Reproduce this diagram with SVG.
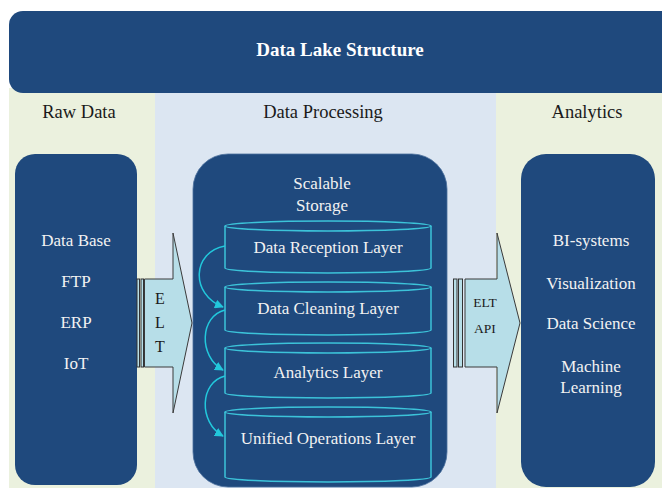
<svg xmlns="http://www.w3.org/2000/svg" width="662" height="488" viewBox="0 0 662 488">
<style>
.t{font-family:"Liberation Serif","Times New Roman",serif;fill:#F2F2F2;font-size:17px;text-anchor:middle}
.h{font-family:"Liberation Serif","Times New Roman",serif;fill:#1A1A1A;font-size:18.5px;text-anchor:middle}
.a{font-family:"Liberation Serif","Times New Roman",serif;fill:#1A1A1A;text-anchor:middle}
.box{fill:#1F497D}
.cyl{fill:#1F497D;stroke:#3CC3D9;stroke-width:1.5}
.arr{fill:#B7DEE8;stroke:#3A3A3A;stroke-width:1}
.bar{fill:#B7DEE8;stroke:#333;stroke-width:1}
.con{fill:none;stroke:#22C8DC;stroke-width:1.5}
</style>
<defs>
<marker id="ah" viewBox="0 0 10 10" refX="9" refY="5" markerWidth="9" markerHeight="9" markerUnits="userSpaceOnUse" orient="auto">
<path d="M0,0 L10,5 L0,10 Z" fill="#22C8DC"/>
</marker>
</defs>
<rect width="662" height="488" fill="#FFFFFF"/>
<g id="columns">
<rect x="9" y="88" width="146" height="400" fill="#EBF1DE"/>
<rect x="155" y="88" width="341" height="400" fill="#DCE6F2"/>
<rect x="496" y="88" width="166" height="400" fill="#EBF1DE"/>
</g>
<g id="banner">
<rect x="9" y="11" width="675" height="82" rx="14" class="box"/>
<text x="340" y="56" class="t" style="font-size:19px;font-weight:bold;fill:#FFFFFF">Data Lake Structure</text>
</g>
<g id="headers">
<text x="79" y="118" class="h">Raw Data</text>
<text x="323" y="118" class="h">Data Processing</text>
<text x="587" y="118" class="h">Analytics</text>
</g>
<g id="raw-data">
<rect x="15" y="154" width="122" height="331" rx="20" class="box"/>
<text x="76" y="246" class="t">Data Base</text>
<text x="76" y="287" class="t">FTP</text>
<text x="76" y="328" class="t">ERP</text>
<text x="76" y="369" class="t">IoT</text>
</g>
<g id="scalable-storage">
<rect x="193" y="154" width="254" height="333" rx="35" class="box" stroke="#4A6E9C" stroke-width="0.8"/>
<text x="322" y="189" class="t">Scalable</text>
<text x="322" y="211" class="t">Storage</text>
</g>
<g id="data-reception-layer">
<path d="M225,226 L225,268 A103,5 0 0 0 431,268 L431,226" class="cyl"/>
<ellipse cx="328" cy="226" rx="103" ry="5" class="cyl"/>
<text x="328" y="253" class="t">Data Reception Layer</text>
</g>
<g id="data-cleaning-layer">
<path d="M225,287 L225,330 A103,5 0 0 0 431,330 L431,287" class="cyl"/>
<ellipse cx="328" cy="287" rx="103" ry="5" class="cyl"/>
<text x="328" y="314" class="t">Data Cleaning Layer</text>
</g>
<g id="analytics-layer">
<path d="M225,348 L225,393 A103,5 0 0 0 431,393 L431,348" class="cyl"/>
<ellipse cx="328" cy="348" rx="103" ry="5" class="cyl"/>
<text x="328" y="378" class="t">Analytics Layer</text>
</g>
<g id="unified-operations-layer">
<path d="M225,412 L225,477 A103,5 0 0 0 431,477 L431,412" class="cyl"/>
<ellipse cx="328" cy="412" rx="103" ry="5" class="cyl"/>
<text x="328" y="444" class="t">Unified Operations Layer</text>
</g>
<g id="analytics">
<rect x="521" y="154" width="134" height="333" rx="25" class="box"/>
<text x="591" y="246" class="t">BI-systems</text>
<text x="591" y="289" class="t">Visualization</text>
<text x="591" y="329" class="t">Data Science</text>
<text x="591" y="372" class="t">Machine</text>
<text x="591" y="393" class="t">Learning</text>
</g>
<g id="elt-left">
<rect x="137" y="279" width="2.5" height="88" class="bar"/>
<rect x="141" y="279" width="2.5" height="88" class="bar"/>
<polygon points="144.5,279 173,279 173,233 192,323 173,413 173,367 144.5,367" class="arr"/>
<text x="160" y="304" class="a" style="font-size:16px">E</text>
<text x="160" y="328" class="a" style="font-size:16px">L</text>
<text x="160" y="352" class="a" style="font-size:16px">T</text>
</g>
<g id="elt-api-right">
<rect x="453.5" y="279" width="3.5" height="88" class="bar"/>
<rect x="458.5" y="279" width="4" height="88" class="bar"/>
<polygon points="465,279 497,279 497,233 520,323 497,413 497,367 465,367" class="arr"/>
<text x="485" y="307" class="a" style="font-size:13.5px">ELT</text>
<text x="485" y="333" class="a" style="font-size:13.5px">API</text>
</g>
<g id="connectors">
<path d="M225,246 C192,252 190,294 223,307" class="con" marker-end="url(#ah)"/>
<path d="M225,310 C200,316 198,356 223,370" class="con" marker-end="url(#ah)"/>
<path d="M225,376 C200,382 198,422 223,436" class="con" marker-end="url(#ah)"/>
</g>
</svg>
